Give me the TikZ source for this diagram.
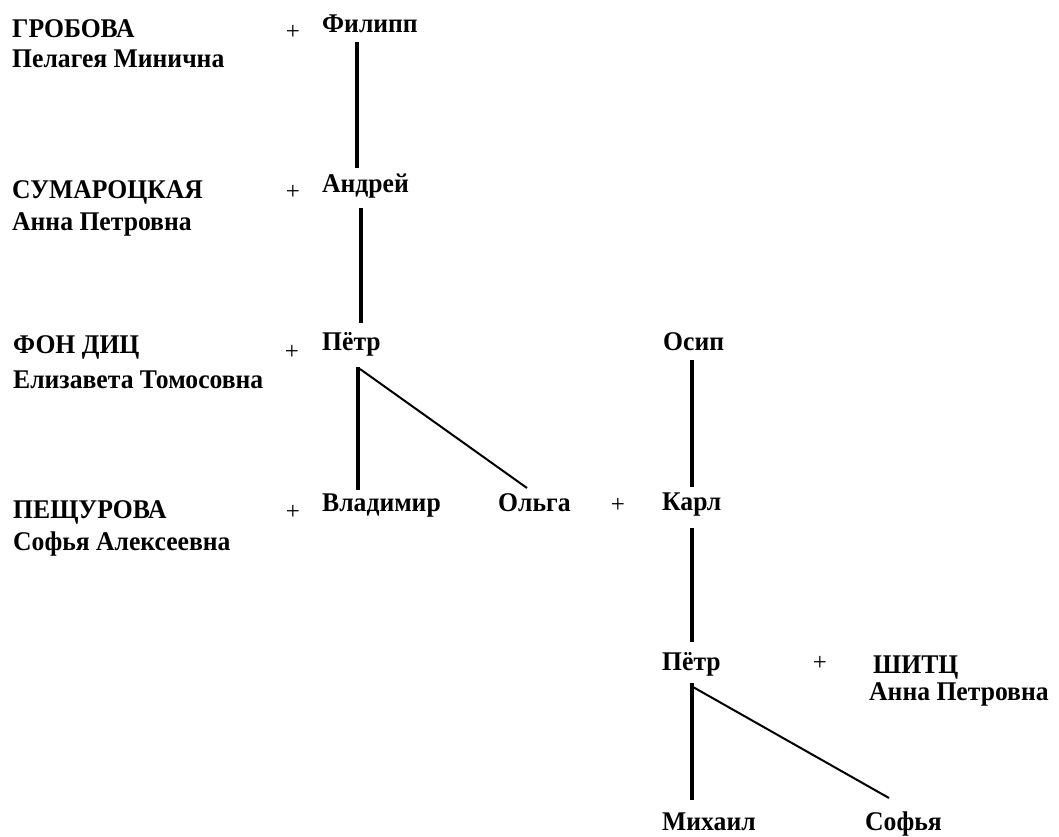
\documentclass[tikz,border=0pt]{standalone}
\usepackage{fontspec}
\setmainfont[FakeStretch=0.95]{Liberation Serif}
\newfontfamily\plusfont{Liberation Serif}
\begin{document}
\begin{tikzpicture}[x=1pt,y=-1pt,
  nm/.style={anchor=base west,inner sep=0pt,font=\fontsize{27}{30}\selectfont\bfseries},
  pl/.style={anchor=center,inner sep=0pt,font=\plusfont\fontsize{25}{30}\selectfont},
  vline/.style={line width=3.2pt},
  dline/.style={line width=2pt}]
\useasboundingbox (0,0) rectangle (1059,836);
% left column
\node[nm] (grob) at (12,37) {ГРОБОВА};
\node[nm] (grob2) at (12,67) {Пелагея Минична};
\node[nm] (sum) at (12,198) {СУМАРОЦКАЯ};
\node[nm] (sum2) at (12,230) {Анна Петровна};
\node[nm] (dic) at (13,353) {ФОН ДИЦ};
\node[nm] (dic2) at (13,388) {Елизавета Томосовна};
\node[nm] (pesh) at (13,518) {ПЕЩУРОВА};
\node[nm] (pesh2) at (13,550) {Софья Алексеевна};
% plus signs
\node[pl] (p1) at (293,32) {+};
\node[pl] (p2) at (293,192) {+};
\node[pl] (p3) at (292,352) {+};
\node[pl] (p4) at (293,512) {+};
\node[pl] (p5) at (618,505) {+};
\node[pl] (p6) at (820,663) {+};
% names
\node[nm] (filipp) at (322,32) {Филипп};
\node[nm] (andrei) at (322,192) {Андрей};
\node[nm] (petr1) at (322,350) {Пётр};
\node[nm] (osip) at (663,350) {Осип};
\node[nm] (vlad) at (322,511) {Владимир};
\node[nm] (olga) at (498,511) {Ольга};
\node[nm] (karl) at (662,510) {Карл};
\node[nm] (petr2) at (662,670) {Пётр};
\node[nm] (shitz) at (873,673) {ШИТЦ};
\node[nm] (shitz2) at (869,700) {Анна Петровна};
\node[nm] (mih) at (662,830) {Михаил};
\node[nm] (sof) at (865,830) {Софья};
% connector ends
\coordinate (a1) at (357,42);  \coordinate (a2) at (357,168);
\coordinate (b1) at (361,208); \coordinate (b2) at (361,323);
\coordinate (c1) at (358,367); \coordinate (c2) at (358,490);
\coordinate (d1) at (360,369); \coordinate (d2) at (527,488);
\coordinate (e1) at (692,360); \coordinate (e2) at (692,487);
\coordinate (f1) at (692,528); \coordinate (f2) at (692,642);
\coordinate (g1) at (692,683); \coordinate (g2) at (692,800);
\coordinate (h1) at (693,687); \coordinate (h2) at (889,798);
\draw[vline] (a1) -- (a2);
\draw[vline] (b1) -- (b2);
\draw[vline] (c1) -- (c2);
\draw[dline] (d1) -- (d2);
\draw[vline] (e1) -- (e2);
\draw[vline] (f1) -- (f2);
\draw[vline] (g1) -- (g2);
\draw[dline] (h1) -- (h2);
\end{tikzpicture}
\end{document}
